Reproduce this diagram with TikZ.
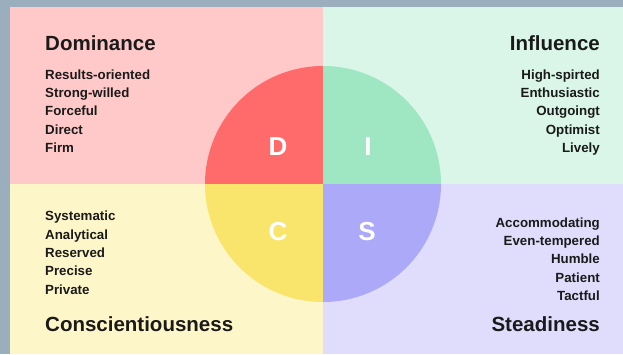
\documentclass[tikz,border=0pt]{standalone}
\usepackage{fontspec}
\setmainfont{Liberation Sans}
\definecolor{bgc}{HTML}{9AAEBD}
\definecolor{qD}{HTML}{FFC9C9}
\definecolor{qI}{HTML}{D9F6E8}
\definecolor{qC}{HTML}{FDF6C8}
\definecolor{qS}{HTML}{DFDCFC}
\definecolor{cD}{HTML}{FF6B6B}
\definecolor{cI}{HTML}{9FE6C2}
\definecolor{cC}{HTML}{F9E56B}
\definecolor{cS}{HTML}{ABA9F8}
\definecolor{ink}{HTML}{1A1A1A}
\tikzset{
  title/.style={font=\fontsize{20.5}{24}\selectfont\bfseries, text=ink, inner sep=0pt},
  item/.style={font=\fontsize{13.3}{16}\selectfont\bfseries, text=ink, inner sep=0pt},
  letter/.style={font=\fontsize{26}{30}\selectfont\bfseries, text=white, inner sep=0pt}
}
\begin{document}
\begin{tikzpicture}[x=1pt,y=-1pt]
\useasboundingbox (0,0) rectangle (623,354);
\fill[bgc] (0,0) rectangle (623,354);
% quadrants
\fill[qD] (10,7) rectangle (323,184);
\fill[qI] (323,7) rectangle (623,184);
\fill[qC] (10,184) rectangle (323,354);
\fill[qS] (323,184) rectangle (623,354);
% circle
\coordinate (O) at (323,184);
\begin{scope}
\clip (O) circle[radius=118];
\fill[cD] (200,60) rectangle (O);
\fill[cI] (446,60) rectangle (O);
\fill[cC] (200,308) rectangle (O);
\fill[cS] (446,308) rectangle (O);
\end{scope}
\node[letter] (lD) at (278,147) {D};
\node[letter] (lI) at (368,147) {I};
\node[letter] (lC) at (278,231.5) {C};
\node[letter] (lS) at (367,231.5) {S};
% Dominance
\node[title, anchor=base west] (tD) at (45,50.7) {Dominance};
\node[item, anchor=base west] (d1) at (45,79) {Results-oriented};
\node[item, anchor=base west] (d2) at (45,97.4) {Strong-willed};
\node[item, anchor=base west] (d3) at (45,115.8) {Forceful};
\node[item, anchor=base west] (d4) at (45,134.2) {Direct};
\node[item, anchor=base west] (d5) at (45,152.6) {Firm};
% Influence
\node[title, anchor=base east] (tI) at (600,50.7) {Influence};
\node[item, anchor=base east] (i1) at (600,79) {High-spirted};
\node[item, anchor=base east] (i2) at (600,97.4) {Enthusiastic};
\node[item, anchor=base east] (i3) at (600,115.8) {Outgoingt};
\node[item, anchor=base east] (i4) at (600,134.2) {Optimist};
\node[item, anchor=base east] (i5) at (600,152.6) {Lively};
% Conscientiousness
\node[item, anchor=base west] (c1) at (45,220.7) {Systematic};
\node[item, anchor=base west] (c2) at (45,239.1) {Analytical};
\node[item, anchor=base west] (c3) at (45,257.5) {Reserved};
\node[item, anchor=base west] (c4) at (45,275.9) {Precise};
\node[item, anchor=base west] (c5) at (45,294.3) {Private};
\node[title, anchor=base west] (tC) at (45,331.7) {Conscientiousness};
% Steadiness
\node[item, anchor=base east] (s1) at (600,227.1) {Accommodating};
\node[item, anchor=base east] (s2) at (600,245.5) {Even-tempered};
\node[item, anchor=base east] (s3) at (600,263.9) {Humble};
\node[item, anchor=base east] (s4) at (600,282.3) {Patient};
\node[item, anchor=base east] (s5) at (600,300.7) {Tactful};
\node[title, anchor=base east] (tS) at (600,331.7) {Steadiness};
\end{tikzpicture}
\end{document}
